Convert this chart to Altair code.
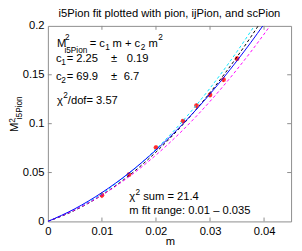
import altair as alt
import pandas as pd

FONT = "Liberation Sans"
GREY = "#8c8c8c"

# ---- data ----
m_pts = [0.01, 0.015, 0.02, 0.025, 0.0275, 0.03, 0.0325, 0.035]
M2_pts = [0.0269, 0.0478, 0.0756, 0.1025, 0.1184, 0.1294, 0.1450, 0.1665]
M2_err = [0.0030, 0.0020, 0.0020, 0.0020, 0.0020, 0.0025, 0.0025, 0.0025]

m_curve = [0.0, 0.005, 0.01, 0.015, 0.02, 0.025, 0.03, 0.035, 0.04, 0.045]
fit_i5Pion = [0.0, 0.0130, 0.0295, 0.0495, 0.0730, 0.0999, 0.1304, 0.1644, 0.2018, 0.2428]
fit_pion = [0.0, 0.0114, 0.0270, 0.0468, 0.0709, 0.0992, 0.1317, 0.1684, 0.2094, 0.2566]
fit_ijPion = [0.0, 0.0121, 0.0285, 0.0491, 0.0739, 0.1030, 0.1363, 0.1738, 0.2155, 0.2615]
fit_scPion = [0.0, 0.0118, 0.0270, 0.0457, 0.0679, 0.0936, 0.1228, 0.1555, 0.1916, 0.2313]

x_ticks = [0, 0.01, 0.02, 0.03, 0.04]
y_ticks = [0, 0.05, 0.1, 0.15, 0.2]
x_inner = [0.01, 0.02, 0.03, 0.04]
y_inner = [0.05, 0.1, 0.15]

W, H = 250, 201

xs = alt.Scale(domain=[0, 0.045], nice=False, zero=False)
ys = alt.Scale(domain=[0, 0.2], nice=False, zero=False)

ax_common = dict(ticks=False, domain=False, grid=False, labelFont=FONT, labelFontSize=11.5,
                 labelColor="black", labelPadding=4, title=None, format="~g",
                 labelFlush=False, labelOverlap=False)
XAX = alt.Axis(values=x_ticks, **ax_common)
YAX = alt.Axis(values=y_ticks, **ax_common)

pts = pd.DataFrame({"m": m_pts, "M2": M2_pts, "err": M2_err})
pts["lo"] = pts["M2"] - pts["err"]
pts["hi"] = pts["M2"] + pts["err"]

layers = []

# inward ticks (box style)
tx = pd.DataFrame({"t": x_inner})
ty = pd.DataFrame({"t": y_inner})
layers.append(alt.Chart(tx).mark_rule(color=GREY, strokeWidth=1).encode(
    x=alt.X("t:Q", scale=xs, axis=XAX), y=alt.value(H), y2=alt.value(H - 4)))
layers.append(alt.Chart(tx).mark_rule(color=GREY, strokeWidth=1).encode(
    x=alt.X("t:Q", scale=xs, axis=XAX), y=alt.value(0), y2=alt.value(4)))
layers.append(alt.Chart(ty).mark_rule(color=GREY, strokeWidth=1).encode(
    y=alt.Y("t:Q", scale=ys, axis=YAX), x=alt.value(0), x2=alt.value(4)))
layers.append(alt.Chart(ty).mark_rule(color=GREY, strokeWidth=1).encode(
    y=alt.Y("t:Q", scale=ys, axis=YAX), x=alt.value(W), x2=alt.value(W - 4)))

# error bars and points
layers.append(alt.Chart(pts).mark_rule(color="#ff0000", strokeWidth=1).encode(
    x=alt.X("m:Q", scale=xs, axis=XAX),
    y=alt.Y("lo:Q", scale=ys, axis=YAX), y2="hi:Q"))
layers.append(alt.Chart(pts).mark_point(filled=True, color="#ff2020", size=24, opacity=0.9).encode(
    x=alt.X("m:Q", scale=xs, axis=XAX),
    y=alt.Y("M2:Q", scale=ys, axis=YAX)))

curves = [
    (fit_ijPion, "#00e5ff", [3, 2.5]),
    (fit_pion, "#000000", [3, 2.5]),
    (fit_scPion, "#ff00ff", [3, 2.5]),
    (fit_i5Pion, "#0000ff", None),
]
for vals, col, dash in curves:
    df = pd.DataFrame({"m": m_curve, "M2": vals})
    kw = dict(color=col, strokeWidth=1, clip=True, interpolate="monotone")
    if dash:
        kw["strokeDash"] = dash
    layers.append(alt.Chart(df).mark_line(**kw).encode(
        x=alt.X("m:Q", scale=xs, axis=XAX),
        y=alt.Y("M2:Q", scale=ys, axis=YAX)))


def txt(s, x, y, size=11.5, angle=0, align="left", baseline="alphabetic"):
    return alt.Chart(pd.DataFrame({"k": [0]})).mark_text(
        text=s, font=FONT, fontSize=size, align=align, baseline=baseline,
        angle=angle, color="black").encode(x=alt.value(x), y=alt.value(y))


SUB = 8.5
texts = [
    # title
    txt("i5Pion fit plotted with pion, ijPion, and scPion", 125, -9, align="center"),
    # equation
    txt("M", 9.3, 21.5), txt("2", 17.5, 14, SUB), txt("i5Pion", 17, 27.5, SUB),
    txt("= c", 43, 21.5), txt("1", 59, 24.5, SUB),
    txt("m + c", 66.5, 21.5), txt("2", 95.5, 24.5, SUB),
    txt("m", 103.5, 21.5), txt("2", 113.5, 14.5, SUB),
    # c1
    txt("c", 8.3, 37), txt("1", 13.7, 40, SUB), txt("= 2.25", 19.3, 37),
    txt("±", 65, 37), txt("0.19", 81, 37),
    # c2
    txt("c", 8.3, 55.3), txt("2", 13.7, 58.3, SUB), txt("= 69.9", 19.3, 55.3),
    txt("±", 65, 55.3), txt("6.7", 78, 55.3),
    # chi2/dof
    txt("χ", 9.3, 80.3), txt("2", 15.8, 74.5, SUB), txt("/dof= 3.57", 20.5, 80.3),
    # bottom
    txt("χ", 83.7, 179.3), txt("2", 90, 173.5, SUB), txt("sum = 21.4", 98, 179.3),
    txt("m fit range:  0.01 – 0.035", 83.7, 193.7),
    # axis titles
    txt("m", 126, 225.5, align="center"),
    txt("M", -30.5, 109, angle=270), txt("2", -34, 99.5, SUB, angle=270),
    txt("i5Pion", -26.5, 96, SUB, angle=270),
]
layers.extend(texts)

chart = alt.layer(*layers).properties(
    width=W, height=H,
    autosize=alt.AutoSizeParams(type="none"),
    padding={"left": 41, "top": 15, "right": 3, "bottom": 27},
    background="white",
).configure_view(stroke=GREY, strokeWidth=1)

chart.save("out.html", embed_options={"renderer": "svg", "actions": False})
